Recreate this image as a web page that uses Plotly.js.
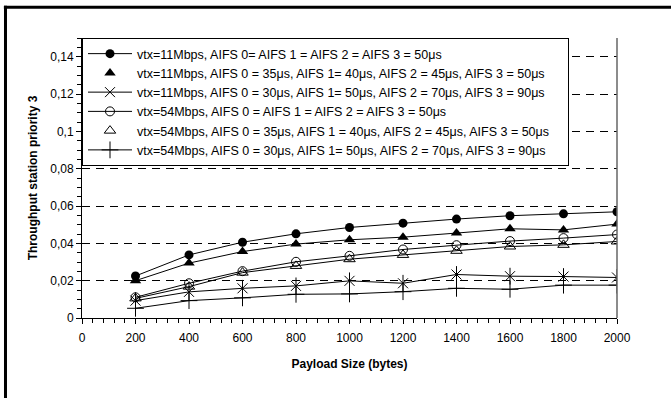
<!DOCTYPE html>
<html>
<head>
<meta charset="utf-8">
<script src="https://cdn.plot.ly/plotly-3.0.1.min.js"></script>
<style>
html,body{margin:0;padding:0;background:#fff;}
#chart{width:671px;height:398px;}
</style>
</head>
<body>
<div id="chart"></div>
<script>
const payload = [200, 400, 600, 800, 1000, 1200, 1400, 1600, 1800, 2000];

const names = [
  "vtx=11Mbps, AIFS 0= AIFS 1 = AIFS 2 = AIFS 3 = 50\u03bcs",
  "vtx=11Mbps, AIFS 0 = 35\u03bcs, AIFS 1= 40\u03bcs, AIFS 2 = 45\u03bcs, AIFS 3 = 50\u03bcs",
  "vtx=11Mbps, AIFS 0 = 30\u03bcs, AIFS 1= 50\u03bcs, AIFS 2 = 70\u03bcs, AIFS 3 = 90\u03bcs",
  "vtx=54Mbps, AIFS 0 = AIFS 1 = AIFS 2 = AIFS 3 = 50\u03bcs",
  "vtx=54Mbps, AIFS 0 = 35\u03bcs, AIFS 1 = 40\u03bcs, AIFS 2 = 45\u03bcs, AIFS 3 = 50\u03bcs",
  "vtx=54Mbps, AIFS 0 = 30\u03bcs, AIFS 1= 50\u03bcs, AIFS 2 = 70\u03bcs, AIFS 3 = 90\u03bcs"
];

const s11Equal   = [0.0225, 0.0338, 0.0406, 0.0451, 0.0485, 0.0508, 0.0530, 0.0548, 0.0558, 0.0569];
const s11Step5   = [0.0200, 0.0294, 0.0356, 0.0396, 0.0419, 0.0433, 0.0455, 0.0478, 0.0472, 0.0503];
const s11Step20  = [0.0093, 0.0140, 0.0159, 0.0172, 0.0199, 0.0186, 0.0233, 0.0224, 0.0222, 0.0217];
const s54Equal   = [0.0111, 0.0186, 0.0251, 0.0301, 0.0333, 0.0367, 0.0390, 0.0412, 0.0428, 0.0447];
const s54Step5   = [0.0105, 0.0168, 0.0243, 0.0279, 0.0315, 0.0338, 0.0360, 0.0383, 0.0392, 0.0410];
const s54Step20  = [0.0052, 0.0093, 0.0108, 0.0127, 0.0129, 0.0141, 0.0159, 0.0154, 0.0176, 0.0176];

const yTickVals = [0, 0.02, 0.04, 0.06, 0.08, 0.1, 0.12, 0.14];
const yTickText = ["0", "0,02", "0,04", "0,06", "0,08", "0,1", "0,12", "0,14"];

// trailing non-breaking spaces only widen the legend box like the reference
const pad = '\u00a0\u00a0\u00a0\u00a0';
const ln = {color: '#000', width: 1};
const traces = [
  {x: payload, y: s11Step5, mode: 'lines', line: ln, showlegend: false, hoverinfo: 'skip'},
  {x: payload, y: s54Step5, mode: 'lines', line: ln, showlegend: false, hoverinfo: 'skip'},
  {x: payload, y: s11Equal, name: names[0], mode: 'lines+markers', line: ln,
   marker: {symbol: 'circle', size: 9, color: '#000'}},
  {x: payload, y: s11Step5, name: names[1], mode: 'markers',
   marker: {symbol: 'triangle-up', size: 10, color: '#000'}},
  {x: payload, y: s11Step20, name: names[2], mode: 'lines+markers', line: ln, legendgroup: 'g3',
   marker: {symbol: 'x-thin-open', size: 10, color: '#000', line: {color: '#000', width: 1}}},
  {x: payload, y: s54Equal, name: names[3], mode: 'lines+markers', line: ln,
   marker: {symbol: 'circle-open', size: 9, color: '#000', line: {color: '#000', width: 1}}},
  {x: payload, y: s54Step5, name: names[4] + pad, mode: 'markers',
   marker: {symbol: 'triangle-up-open', size: 10, color: '#000', line: {color: '#000', width: 1}}},
  {x: payload, y: s54Step20, name: names[5], mode: 'lines+markers', line: ln,
   marker: {symbol: 'cross-thin-open', size: 12, color: '#000', line: {color: '#000', width: 1}}},
  {x: payload, y: s11Step20, mode: 'markers', legendgroup: 'g3', showlegend: false, hoverinfo: 'skip',
   marker: {symbol: 'line-ns-open', size: 12, color: '#000', line: {color: '#000', width: 1}}}
];

const font = {family: '"Liberation Sans", Arial, sans-serif', size: 12, color: '#000'};

const layout = {
  width: 671, height: 398,
  margin: {l: 82, r: 54, t: 38, b: 80},
  paper_bgcolor: '#fff', plot_bgcolor: '#fff',
  font: font,
  showlegend: true,
  legend: {
    x: 0, y: 1, xanchor: 'left', yanchor: 'top',
    bgcolor: '#fff', bordercolor: '#000', borderwidth: 1,
    font: {family: font.family, size: 12.5, color: '#000'},
    itemwidth: 44, tracegroupgap: 0
  },
  xaxis: {
    range: [0, 2000], dtick: 200, tick0: 0,
    showgrid: false, zeroline: false,
    showline: true, linecolor: '#000', linewidth: 1,
    ticks: 'outside', ticklen: 5, tickcolor: '#000', tickwidth: 1,
    minor: {dtick: 40, ticks: 'outside', ticklen: 4, tickcolor: '#000', showgrid: false},
    tickfont: {family: font.family, size: 12, color: '#000'},
    ticklabelstandoff: 4,
    title: {text: '<b>Payload Size (bytes)</b>', font: {family: font.family, size: 12, color: '#000'}, standoff: 15}
  },
  yaxis: {
    range: [0, 0.15],
    tickmode: 'array', tickvals: yTickVals, ticktext: yTickText,
    showgrid: true, gridcolor: '#000', gridwidth: 1, griddash: '8px,6px',
    zeroline: false,
    showline: true, linecolor: '#000', linewidth: 1,
    ticks: 'outside', ticklen: 5, tickcolor: '#000', tickwidth: 1,
    minor: {tickmode: 'linear', tick0: 0, dtick: 0.005, ticks: 'outside', ticklen: 4, tickcolor: '#000', showgrid: false},
    tickfont: {family: font.family, size: 12, color: '#000'},
    title: {text: '<b>Throughput station priority 3</b>', font: {family: font.family, size: 12, color: '#000'}, standoff: 10}
  },
  shapes: [
    {type: 'line', xref: 'paper', yref: 'paper', x0: 1, x1: 1, y0: 0, y1: 1, line: {color: '#666', width: 1.5}},
    {type: 'line', xref: 'paper', yref: 'paper', x0: -0.143, x1: -0.143, y0: -0.3, y1: 1.115, line: {color: '#000', width: 3}},
    {type: 'line', xref: 'paper', yref: 'paper', x0: -0.146, x1: 1.2, y0: 1.110, y1: 1.110, line: {color: '#000', width: 3}}
  ]
};

Plotly.newPlot('chart', traces, layout, {displayModeBar: false, staticPlot: true});
</script>
</body>
</html>
